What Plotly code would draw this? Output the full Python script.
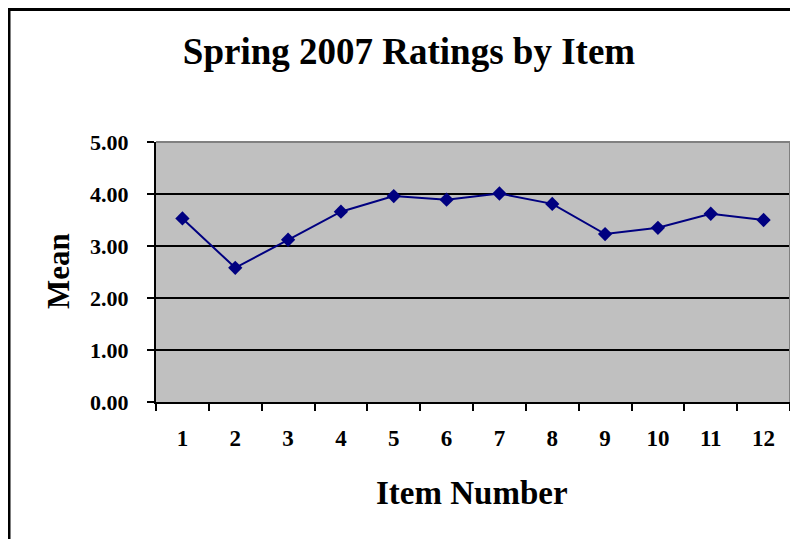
import plotly.graph_objects as go

items = ["1", "2", "3", "4", "5", "6", "7", "8", "9", "10", "11", "12"]
means = [3.53, 2.58, 3.12, 3.66, 3.96, 3.89, 4.01, 3.81, 3.23, 3.35, 3.62, 3.50]
y_ticks = [0, 1, 2, 3, 4, 5]
y_tick_labels = ["0.00", "1.00", "2.00", "3.00", "4.00", "5.00"]

OFF = 8  # page body margin
W, H = 798 - OFF, 539 - OFF
# plot area in reference pixel coordinates
X0, X1, Y0, Y1 = 156, 790, 142, 402
L, R, T, B = X0 - OFF, W - (X1 - OFF), Y0 - OFF, H - (Y1 - OFF)
pw, ph = W - L - R, H - T - B

def px(x):
    return (x - OFF - L) / pw

def py(y):
    return (H - B - (y - OFF)) / ph

FONT = "Liberation Serif"

fig = go.Figure()
fig.add_trace(go.Scatter(
    x=items, y=means, mode="lines+markers",
    line=dict(color="#000080", width=2),
    marker=dict(symbol="diamond", size=11, color="#000080"),
    showlegend=False,
))

fig.update_layout(
    width=W, height=H,
    margin=dict(l=L, r=R, t=T, b=B, pad=0),
    paper_bgcolor="white",
    plot_bgcolor="#C0C0C0",
    title=dict(text="<b>Spring 2007 Ratings by Item</b>", x=(409 - OFF) / W, xanchor="center",
               y=1 - (51 - OFF) / H, yanchor="middle",
               font=dict(family=FONT, size=37, color="black")),
    font=dict(family=FONT, color="black"),
)

fig.update_xaxes(
    type="category", range=[-0.5, 11.5],
    showline=True, linecolor="black", linewidth=2,
    ticks="outside", tickson="boundaries", ticklen=7, tickwidth=2, tickcolor="black",
    showgrid=False,
    tickfont=dict(family=FONT, size=23, color="black"),
    tickprefix="<b>", ticksuffix="</b>",
    ticklabelstandoff=14,
)
fig.update_yaxes(
    range=[0, 5], tickvals=y_ticks, ticktext=["<b>" + t + "</b>" for t in y_tick_labels],
    showline=True, linecolor="black", linewidth=2,
    ticks="outside", ticklen=7, tickwidth=2, tickcolor="black",
    showgrid=True, gridcolor="black", gridwidth=2,
    tickfont=dict(family=FONT, size=22, color="black"),
    ticklabelstandoff=14,
)

# axis titles
fig.add_annotation(text="<b>Item Number</b>", xref="paper", yref="paper",
                   x=px(472), y=py(493), xanchor="center", yanchor="middle", showarrow=False,
                   font=dict(family=FONT, size=33, color="black"))
fig.add_annotation(text="<b>Mean</b>", xref="paper", yref="paper", textangle=-90,
                   x=px(58), y=py(271), xanchor="center", yanchor="middle", showarrow=False,
                   font=dict(family=FONT, size=31, color="black"))

# plot area top/right gray border
fig.add_shape(type="line", xref="paper", yref="paper", x0=0, x1=1, y0=1, y1=1,
              line=dict(color="#808080", width=2))
fig.add_shape(type="line", xref="paper", yref="paper", x0=1, x1=1, y0=0, y1=1,
              line=dict(color="#808080", width=2))
# chart frame
fig.add_shape(type="line", xref="paper", yref="paper", x0=px(7), x1=px(790), y0=py(9.5), y1=py(9.5),
              line=dict(color="black", width=3))
fig.add_shape(type="line", xref="paper", yref="paper", x0=px(9), x1=px(9), y0=py(8), y1=py(545),
              line=dict(color="black", width=3))

fig.write_html("out.html")
